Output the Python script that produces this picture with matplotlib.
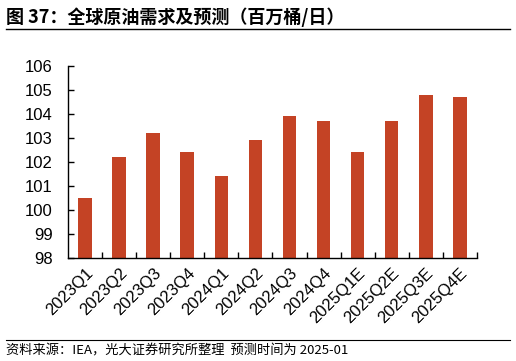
import matplotlib
matplotlib.use('Agg')
import matplotlib.pyplot as plt
from matplotlib.lines import Line2D

# data
quarters = ['2023Q1', '2023Q2', '2023Q3', '2023Q4', '2024Q1', '2024Q2',
            '2024Q3', '2024Q4', '2025Q1E', '2025Q2E', '2025Q3E', '2025Q4E']
demand = [100.5, 102.2, 103.2, 102.4, 101.4, 102.9,
          103.9, 103.7, 102.4, 103.7, 104.8, 104.7]
y_ticks = [98, 99, 100, 101, 102, 103, 104, 105, 106]

title = '图 37：全球原油需求及预测（百万桶/日）'
source = '资料来源：IEA，光大证券研究所整理  预测时间为 2025-01'

cjk = ['Noto Sans CJK SC', 'DejaVu Sans']

fig = plt.figure(figsize=(5.16, 3.61), dpi=100)
ax = fig.add_axes([0.132, 0.285, 0.792, 0.532])

xs = range(len(quarters))
ax.bar(xs, demand, width=0.4, color='#C44325', bottom=0)
ax.set_ylim(98, 106)
ax.set_xlim(-0.5, len(quarters) - 0.5)
ax.set_yticks(y_ticks)
ax.set_yticklabels([str(v) for v in y_ticks], fontsize=12, family='Liberation Sans')

# x ticks sit between the bars
ax.set_xticks([i + 0.5 for i in range(len(quarters))])
ax.set_xticklabels([])
ax.set_xticks(list(xs), minor=True)
ax.set_xticklabels(quarters, minor=True, rotation=45, ha='right',
                   rotation_mode='anchor', fontsize=12, family='Liberation Sans')
ax.tick_params(axis='x', which='minor', length=0, pad=5)
ax.tick_params(axis='x', which='major', direction='in', length=4, width=1)
ax.tick_params(axis='y', direction='in', length=4, width=1, pad=11)

for s in ['top', 'right']:
    ax.spines[s].set_visible(False)
ax.spines['left'].set_linewidth(1)
ax.spines['bottom'].set_linewidth(1)

fig.text(0.012, 0.952, title, fontsize=13, fontweight='bold', family=cjk,
         va='center', ha='left')
fig.add_artist(Line2D([0.012, 0.988], [0.921, 0.921], color='black', lw=1))
fig.add_artist(Line2D([0.012, 0.988], [0.058, 0.058], color='black', lw=0.8))
fig.text(0.012, 0.028, source, fontsize=9.5, family=cjk, va='center', ha='left')

fig.savefig('out.png', dpi=100)
